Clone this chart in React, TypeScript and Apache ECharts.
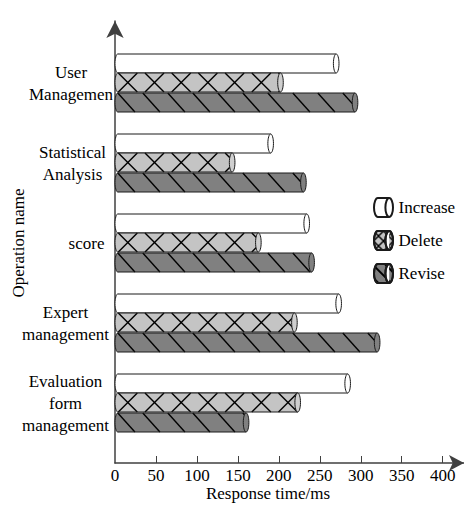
import React, { useEffect, useRef } from 'react';
import * as echarts from 'echarts';

// ---- data ----
const categories = ['User\nManagemen', 'Statistical\nAnalysis', 'score', 'Expert\nmanagement', 'Evaluation\nform\nmanagement'];
const seriesNames = ['Increase', 'Delete', 'Revise'];
const increaseValues = [270, 190, 234, 273, 284];
const deleteValues = [202, 143, 175, 219, 223];
const reviseValues = [293, 230, 240, 320, 160];
const xTicks = [0, 50, 100, 150, 200, 250, 300, 350, 400];
const xMax = 426;

// ---- styles ----
const FONT = 'Liberation Serif, Times New Roman, serif';
const AXIS_COLOR = '#404040';
const BORDER = '#1a1a1a';
const labelShift = [4, 5.5, 19.5, -1.5, -1.5];
const barStyles = [
  { fill: '#ffffff', end: '#ffffff', hatch: 'none' },
  { fill: '#c4c4c4', end: '#cfcfcf', hatch: 'cross' },
  { fill: '#808080', end: '#808080', hatch: 'diag' },
];
const barOffsets = [-19.5, -0.5, 19.5];
const BAR_H = 19;
const CAP_RX = 2.8;

function diagSegments(xa: number, xb: number, yt: number, h: number, period: number, slope: number, phase: number, dir: number) {
  const segs: number[][] = [];
  const span = slope * h;
  let c = phase;
  while (c > xa - span) c -= period;
  for (; c <= xb + span; c += period) {
    let t0: number, t1: number;
    if (dir > 0) {
      t0 = Math.max(0, (xa - c) / slope);
      t1 = Math.min(h, (xb - c) / slope);
    } else {
      t0 = Math.max(0, (c - xb) / slope);
      t1 = Math.min(h, (c - xa) / slope);
    }
    if (t1 > t0 + 0.3) segs.push([c + dir * slope * t0, yt + t0, c + dir * slope * t1, yt + t1]);
  }
  return segs;
}

function makeRenderItem(si: number) {
  return (params: any, api: any) => {
    const v = api.value(0);
    const c = api.value(1);
    const p0 = api.coord([0, c]);
    const p1 = api.coord([v, c]);
    const st = barStyles[si];
    const cy = p0[1] + barOffsets[si];
    const yt = cy - BAR_H / 2;
    const yb = cy + BAR_H / 2;
    const xa = p0[0] + CAP_RX;
    const x1 = p1[0];
    const children: any[] = [];
    children.push({ type: 'ellipse', shape: { cx: xa, cy, rx: CAP_RX, ry: BAR_H / 2 }, style: { fill: st.fill, stroke: BORDER, lineWidth: 1 } });
    children.push({ type: 'rect', shape: { x: xa, y: yt, width: x1 - xa, height: BAR_H }, style: { fill: st.fill } });
    let segs: number[][] = [];
    if (st.hatch === 'cross') {
      segs = segs.concat(diagSegments(xa, x1, yt, BAR_H, 26.7, 1, xa + 0.5, 1));
      segs = segs.concat(diagSegments(xa, x1, yt, BAR_H, 26.7, 1, xa + 0.5 + BAR_H, -1));
    } else if (st.hatch === 'diag') {
      segs = diagSegments(xa, x1, yt, BAR_H, 25, 0.9, xa, 1);
    }
    segs.forEach((s) => {
      children.push({ type: 'line', shape: { x1: s[0], y1: s[1], x2: s[2], y2: s[3] }, style: { stroke: '#000', lineWidth: 1.4 } });
    });
    children.push({ type: 'line', shape: { x1: xa, y1: yt, x2: x1, y2: yt }, style: { stroke: BORDER, lineWidth: 1 } });
    children.push({ type: 'line', shape: { x1: xa, y1: yb, x2: x1, y2: yb }, style: { stroke: BORDER, lineWidth: 1 } });
    children.push({ type: 'ellipse', shape: { cx: x1, cy, rx: CAP_RX, ry: BAR_H / 2 }, style: { fill: st.end, stroke: BORDER, lineWidth: 1 } });
    return { type: 'group', children };
  };
}

const CYL_ICON = 'path://M4,0 L16,0 A4,10 0 0 1 16,20 L4,20 A4,10 0 0 1 4,0 Z M16,0 A4,10 0 0 0 16,20';

export default function App() {
  const ref = useRef<HTMLDivElement>(null);
  useEffect(() => {
    if (!ref.current) return;
    const chart = echarts.init(ref.current, null, { renderer: 'svg' });
    const valueSets = [increaseValues, deleteValues, reviseValues];
    const decals: any[] = [
      undefined,
      { symbol: 'path://M0,0L2,0L20,18L20,20L18,20L0,2Z M18,0L20,0L20,2L2,20L0,20L0,18Z', symbolSize: 1, dashArrayX: [10, 0], dashArrayY: [10, 0], color: '#000' },
      { symbol: 'rect', symbolSize: 1, dashArrayX: [1, 0], dashArrayY: [2, 7], rotation: Math.PI / 4, color: '#000' },
    ];
    const textBase = { fontFamily: FONT, fontSize: 17, color: '#000' };
    chart.setOption({
      animation: false,
      backgroundColor: '#fff',
      grid: [
        { left: 115, right: 0, top: 43, bottom: 65, containLabel: false, outerBoundsMode: 'none' },
        { left: 115, right: 0, top: 21, bottom: 45, containLabel: false, outerBoundsMode: 'none' },
      ],
      legend: {
        orient: 'vertical',
        left: 368,
        top: 192,
        itemWidth: 20,
        itemHeight: 19,
        itemGap: 12,
        selectedMode: false,
        textStyle: textBase,
        data: seriesNames.map((n) => ({ name: n, icon: CYL_ICON })),
      },
      xAxis: [
        { type: 'value', gridIndex: 0, min: 0, max: xMax, show: false },
        {
          type: 'value',
          gridIndex: 1,
          min: 0,
          max: xMax,
          interval: 50,
          name: 'Response time/ms',
          nameLocation: 'middle',
          nameGap: 22,
          nameMoveOverlap: false,
          nameTextStyle: { ...textBase, lineHeight: 17, padding: [0, 43, 0, 0] },
          axisLine: { show: true, symbol: ['none', 'arrow'], symbolSize: [12, 15], lineStyle: { color: AXIS_COLOR, width: 1.5 } },
          axisTick: { show: true, inside: true, length: 7, customValues: xTicks.slice(1), lineStyle: { color: AXIS_COLOR, width: 1 } },
          axisLabel: { ...textBase, margin: 5, lineHeight: 15, customValues: xTicks },
          splitLine: { show: false },
        },
      ],
      yAxis: [
        {
          type: 'category',
          gridIndex: 0,
          inverse: true,
          data: categories.map((c, i) => ({
            value: c,
            textStyle: {
              ...textBase,
              align: 'center',
              lineHeight: 22,
              padding: labelShift[i] >= 0 ? [0, 0, 0, 2 * labelShift[i]] : [0, -2 * labelShift[i], 0, 0],
            },
          })),
          name: 'Operation name',
          nameLocation: 'middle',
          nameGap: 88,
          nameMoveOverlap: false,
          nameTextStyle: textBase,
          axisLine: { show: false },
          axisTick: { show: false },
          axisLabel: { ...textBase, align: 'center', margin: 48, lineHeight: 22 },
          splitLine: { show: false },
        },
        {
          type: 'value',
          gridIndex: 1,
          min: 0,
          max: 1,
          axisLine: { show: true, symbol: ['none', 'arrow'], symbolSize: [13, 17], lineStyle: { color: AXIS_COLOR, width: 1.5 } },
          axisTick: { show: false },
          axisLabel: { show: false },
          splitLine: { show: false },
        },
      ],
      series: seriesNames.map((name, si) => ({
        name,
        type: 'custom',
        xAxisIndex: 0,
        yAxisIndex: 0,
        encode: { x: 0, y: 1 },
        itemStyle: { color: barStyles[si].fill, borderColor: BORDER, borderWidth: 1, decal: decals[si] },
        renderItem: makeRenderItem(si),
        data: valueSets[si].map((v, i) => [v, i]),
      })),
    });
    return () => chart.dispose();
  }, []);
  return <div ref={ref} style={{ position: 'fixed', left: 0, top: 0, width: 464, height: 508 }} />;
}
